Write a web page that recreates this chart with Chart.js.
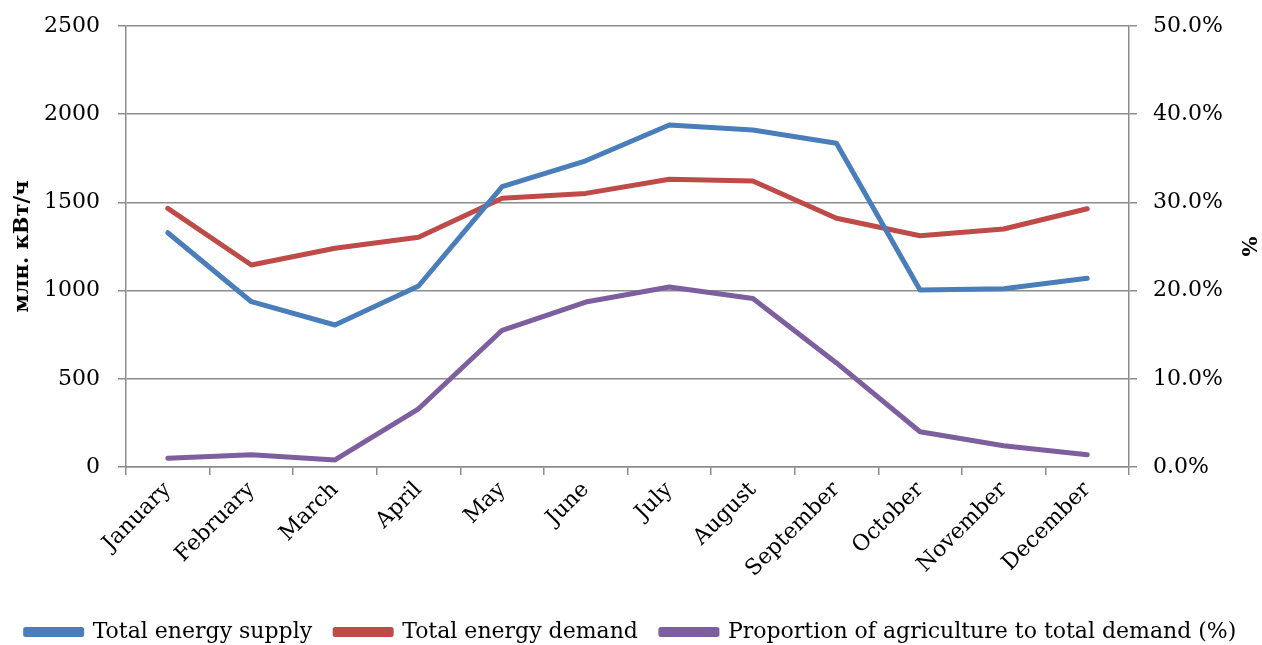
<!DOCTYPE html>
<html>
<head>
<meta charset="utf-8">
<script src="https://cdn.jsdelivr.net/npm/chart.js@4/dist/chart.umd.min.js"></script>
<style>
html,body{margin:0;padding:0;background:#fff;}
#wrap{width:1262px;height:645px;position:relative;}
</style>
</head>
<body>
<div id="wrap"><canvas id="c" width="1262" height="645"></canvas></div>
<script>
const months = ['January','February','March','April','May','June','July','August','September','October','November','December'];
const totalSupply = [1328, 937, 805, 1026, 1589, 1736, 1939, 1910, 1835, 1003, 1011, 1070];
const totalDemand = [1466, 1145, 1240, 1302, 1523, 1551, 1631, 1621, 1410, 1311, 1349, 1464];
const agriShare = [1.0, 1.4, 0.8, 6.6, 15.5, 18.7, 20.4, 19.1, 11.8, 4.0, 2.4, 1.4];
const leftTicks = [0, 500, 1000, 1500, 2000, 2500];
const rightTicks = [0, 10, 20, 30, 40, 50];

const FONT = "'DejaVu Serif', serif";
const GRID = '#8c8c8c';

new Chart(document.getElementById('c'), {
  type: 'line',
  data: {
    labels: months,
    datasets: [
      {label: 'Total energy supply', data: totalSupply, borderColor: '#4a7ebb', backgroundColor: '#4a7ebb', yAxisID: 'y'},
      {label: 'Total energy demand', data: totalDemand, borderColor: '#be4b48', backgroundColor: '#be4b48', yAxisID: 'y'},
      {label: 'Proportion of agriculture to total demand (%)', data: agriShare, borderColor: '#7d5fa0', backgroundColor: '#7d5fa0', yAxisID: 'y1'}
    ]
  },
  options: {
    responsive: false,
    animation: false,
    events: [],
    layout: {padding: {top: 26, left: 0, right: 0, bottom: 0}},
    elements: {
      line: {tension: 0, borderWidth: 5, borderCapStyle: 'round', borderJoinStyle: 'round', fill: false},
      point: {radius: 0}
    },
    scales: {
      x: {
        offset: true,
        grid: {offset: true, drawOnChartArea: false, drawTicks: true, tickLength: 8, color: GRID, lineWidth: 1.5},
        border: {color: GRID, width: 1.5},
        ticks: {color: '#000', font: {family: FONT, size: 22}, minRotation: 45, maxRotation: 45, autoSkip: false, padding: 2},
        afterFit: s => { s.height = 131; s.paddingLeft = 0; s.paddingRight = 0; }
      },
      y: {
        position: 'left',
        min: 0, max: 2500,
        afterBuildTicks: s => { s.ticks = leftTicks.map(v => ({value: v})); },
        grid: {color: GRID, lineWidth: 1.5, tickLength: 8},
        border: {color: GRID, width: 1.5},
        ticks: {color: '#000', font: {family: FONT, size: 22}, padding: 18, callback: v => String(v)},
        title: {display: true, text: 'млн. кВт/ч', color: '#000', font: {family: FONT, size: 21, weight: 'bold'}, padding: {top: 10, bottom: 0}},
        afterFit: s => { s.width = 126; s.paddingTop = 0; s.paddingBottom = 0; }
      },
      y1: {
        position: 'right',
        min: 0, max: 50,
        afterBuildTicks: s => { s.ticks = rightTicks.map(v => ({value: v})); },
        grid: {drawOnChartArea: false, color: GRID, lineWidth: 1.5, tickLength: 8},
        border: {color: GRID, width: 1.5},
        ticks: {color: '#000', font: {family: FONT, size: 22}, padding: 16, callback: v => v.toFixed(1) + '%'},
        title: {display: true, text: '%', color: '#000', font: {family: FONT, size: 21, weight: 'bold'}, padding: {top: 2, bottom: 0}},
        afterFit: s => { s.width = 133; s.paddingTop = 0; s.paddingBottom = 0; }
      }
    },
    plugins: {
      tooltip: {enabled: false},
      legend: {
        position: 'bottom',
        maxHeight: 47,
        labels: {
          color: '#000',
          font: {family: FONT, size: 22},
          boxWidth: 56,
          boxHeight: 5,
          padding: 23
        }
      }
    }
  }
});
</script>
</body>
</html>
